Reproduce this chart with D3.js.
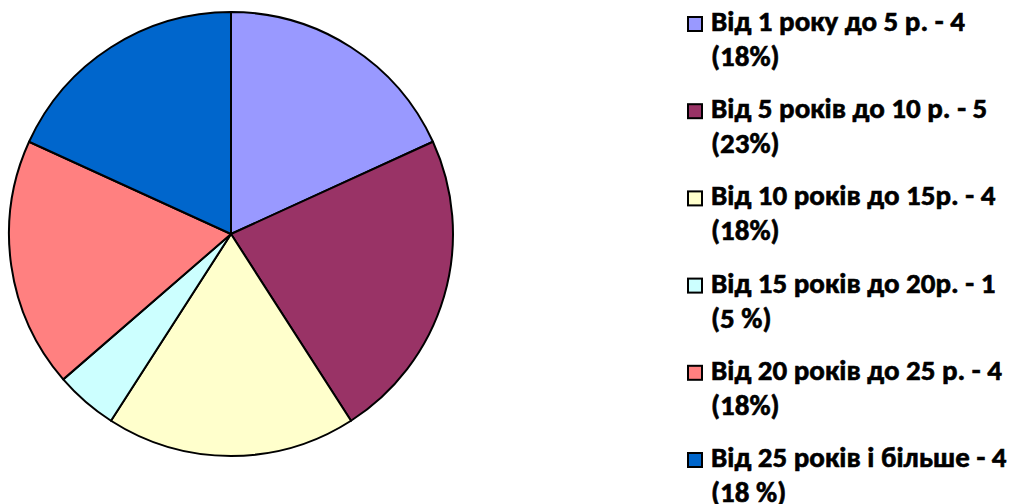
<!DOCTYPE html>
<html lang="uk">
<head>
<meta charset="utf-8">
<title>Стаж</title>
<script src="https://cdn.jsdelivr.net/npm/d3@7"></script>
<style>
  html, body { margin: 0; padding: 0; background: #fff; }
  svg { display: block; }
  .legend text { font-family: Carlito, Lato, "Open Sans", sans-serif; font-weight: 700; font-size: 29px; fill: #000; stroke: #000; stroke-width: 0.6px; }
</style>
</head>
<body>
<svg width="1014" height="504"></svg>
<script>
// data
var labels = ["Від 1 року до 5 р. - 4", "Від 5 років до 10 р. - 5", "Від 10 років до 15р. - 4",
              "Від 15 років до 20р. - 1", "Від 20 років до 25 р. - 4", "Від 25 років і більше - 4"];
var percents = ["(18%)", "(23%)", "(18%)", "(5 %)", "(18%)", "(18 %)"];
var values = [4, 5, 4, 1, 4, 4];
var colors = ["#9999FF", "#993366", "#FFFFCC", "#CCFFFF", "#FF8080", "#0066CC"];

var svg = d3.select("svg");
var cx = 231, cy = 234, r = 222;

var pie = d3.pie().sort(null).value(function(d) { return d; });
var arc = d3.arc().innerRadius(0).outerRadius(r);

var g = svg.append("g").attr("transform", "translate(" + cx + "," + cy + ")");
g.selectAll("path")
    .data(pie(values))
    .enter().append("path")
    .attr("d", arc)
    .attr("fill", function(d, i) { return colors[i]; })
    .attr("stroke", "#000")
    .attr("stroke-width", 2)
    .attr("stroke-linejoin", "round");

// legend
var legend = svg.append("g").attr("class", "legend");
var y = d3.scaleLinear().domain([0, 5]).range([31, 467]);

var item = legend.selectAll("g")
    .data(labels)
    .enter().append("g")
    .attr("transform", function(d, i) { return "translate(0," + y(i) + ")"; });

item.append("rect")
    .attr("x", 688).attr("y", -14)
    .attr("width", 14).attr("height", 14)
    .attr("fill", function(d, i) { return colors[i]; })
    .attr("stroke", "#000")
    .attr("stroke-width", 2);

item.append("text")
    .attr("x", 711).attr("y", 0)
    .text(function(d) { return d; });

item.append("text")
    .attr("x", 711).attr("y", 35)
    .text(function(d, i) { return percents[i]; });
</script>
</body>
</html>
